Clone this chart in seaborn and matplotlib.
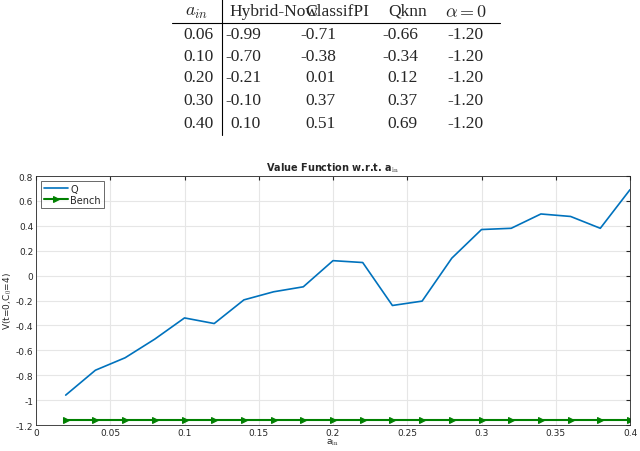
import matplotlib
matplotlib.use("Agg")
import matplotlib.pyplot as plt
import seaborn as sns
import numpy as np
import pandas as pd

x = [0.02,0.04,0.06,0.08,0.10,0.12,0.14,0.16,0.18,0.20,0.22,0.24,0.26,0.28,0.30,0.32,0.34,0.36,0.38,0.40]
q = [-0.96,-0.76,-0.66,-0.51,-0.34,-0.385,-0.195,-0.13,-0.09,0.12,0.105,-0.24,-0.205,0.14,0.37,0.38,0.495,0.475,0.38,0.69]
bench = [-1.16]*20

tab_a = ["0.06","0.10","0.20","0.30","0.40"]
tab_hybrid = ["-0.99","-0.70","-0.21","-0.10","0.10"]
tab_classif = ["-0.71","-0.38","0.01","0.37","0.51"]
tab_qknn = ["-0.66","-0.34","0.12","0.37","0.69"]
tab_alpha = ["-1.20"]*5

sns.set_style("white")
plt.rcParams['mathtext.fontset'] = 'cm'
fig = plt.figure(figsize=(6.4,4.52), dpi=100)
W, H = 640, 452
def fx(p): return p/W
def fy(p): return 1-p/H

# table
ser = dict(family='Liberation Serif', fontsize=12.5, va='center')
fig.text(fx(197), fy(12), r'$a_{in}$', ha='center', fontsize=13, va='center')
fig.text(fx(229), fy(12), 'Hybrid-Now', ha='left', **ser)
fig.text(fx(305), fy(12), 'ClassifPI', ha='left', **ser)
fig.text(fx(388), fy(12), 'Qknn', ha='left', **ser)
fig.text(fx(445), fy(12), r'$\alpha = 0$', ha='left', fontsize=13, va='center')
rows_y = [35,57,78,101,124]
for i, yy in enumerate(rows_y):
    fig.text(fx(214), fy(yy), tab_a[i], ha='right', **ser)
    fig.text(fx(261), fy(yy), tab_hybrid[i], ha='right', **ser)
    fig.text(fx(336), fy(yy), tab_classif[i], ha='right', **ser)
    fig.text(fx(418), fy(yy), tab_qknn[i], ha='right', **ser)
    fig.text(fx(483), fy(yy), tab_alpha[i], ha='right', **ser)
fig.add_artist(plt.Line2D([fx(172), fx(500)], [fy(24), fy(24)], color='black', lw=0.8))
fig.add_artist(plt.Line2D([fx(222), fx(222)], [fy(0), fy(136)], color='black', lw=0.8))

# plot
ax = fig.add_axes([fx(36), 1-426/H, (630-36)/W, (426-177)/H])
df = pd.DataFrame({'x': x, 'Q': q, 'Bench': bench})
sns.lineplot(data=df, x='x', y='Q', ax=ax, color='#0072BD', lw=1.2, label='Q')
sns.lineplot(data=df, x='x', y='Bench', ax=ax, color='#008000', lw=1.5, marker='>', markersize=5, markeredgecolor='#008000', label='Bench')
ax.set_xlim(0, 0.4)
ax.set_ylim(-1.2, 0.8)
ax.set_xticks(np.arange(0, 0.401, 0.05))
ax.set_xticklabels(['0','0.05','0.1','0.15','0.2','0.25','0.3','0.35','0.4'])
ax.set_yticks(np.arange(-1.2, 0.81, 0.2))
ax.set_yticklabels(['-1.2','-1','-0.8','-0.6','-0.4','-0.2','0','0.2','0.4','0.6','0.8'])
ax.tick_params(direction='in', labelsize=6.5, length=3, top=True, right=True, colors='#262626', pad=2)
ax.grid(True, color='#e6e6e6', lw=0.8)
for s in ax.spines.values():
    s.set_color('#262626'); s.set_linewidth(0.6)
ax.set_xlabel(r'a$_{\mathrm{in}}$', fontsize=6.5, labelpad=0)
ax.set_ylabel(r'V(t=0,C$_0$=4)', fontsize=6.5, labelpad=1)
ax.set_title(r'Value Function w.r.t. a$_{\mathrm{in}}$', fontsize=7, fontweight='bold', pad=4)
leg = ax.legend(loc='upper left', fontsize=7, frameon=True, fancybox=False, edgecolor='#262626',
                handlelength=2.5, borderpad=0.3, labelspacing=0.1, handletextpad=0.2)
leg.get_frame().set_linewidth(0.6)
fig.savefig('out.png', dpi=100)
